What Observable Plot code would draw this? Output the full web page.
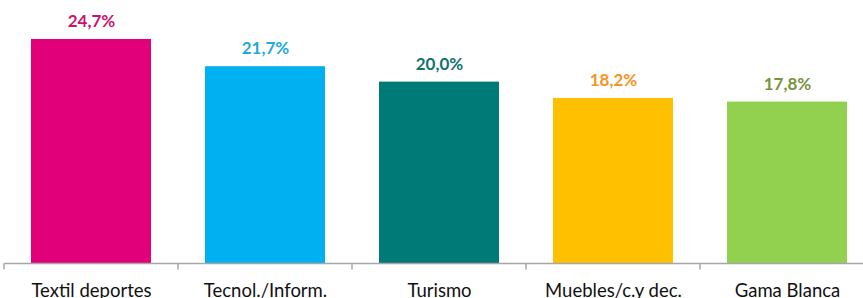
<!DOCTYPE html>
<html>
<head>
<meta charset="utf-8">
<script src="https://cdn.jsdelivr.net/npm/d3@7"></script>
<script src="https://cdn.jsdelivr.net/npm/@observablehq/plot@0.6"></script>
<style>
  html, body { margin: 0; padding: 0; background: #fff; overflow: hidden; }
  svg { display: block; }
</style>
</head>
<body>
<div id="chart"></div>
<script>
const categories = ["Textil deportes", "Tecnol./Inform.", "Turismo", "Muebles/c.y dec.", "Gama Blanca"];
const values = [24.7, 21.7, 20.0, 18.2, 17.8];
const valueLabels = ["24,7%", "21,7%", "20,0%", "18,2%", "17,8%"];
const barColors = ["#E2007A", "#00B0F0", "#007A77", "#FFC000", "#92D050"];
const labelColors = ["#C8146C", "#1EA9E1", "#127370", "#F7941D", "#77933C"];

const data = categories.map((c, i) => ({
  cat: c, value: values[i], label: valueLabels[i], bar: barColors[i], lab: labelColors[i]
}));

// category boundary tick marks (Excel-style), drawn from the x band scale
function boundaryTicks(index, scales, values, dimensions) {
  const x = scales.x, y = scales.y;
  const step = x.step();
  const g = d3.create("svg:g");
  const y0 = y(0) + 0.5;
  const bounds = categories.map(c => x(c) + x.bandwidth() / 2 - step / 2);
  bounds.push(x(categories[categories.length - 1]) + x.bandwidth() / 2 + step / 2);
  g.append("line")
    .attr("x1", bounds[0]).attr("x2", bounds[bounds.length - 1])
    .attr("y1", y0).attr("y2", y0)
    .attr("stroke", "#A6A6A6").attr("stroke-width", 1.5);
  for (const b of bounds) {
    g.append("line")
      .attr("x1", b).attr("x2", b)
      .attr("y1", y0).attr("y2", y0 + 6)
      .attr("stroke", "#A6A6A6").attr("stroke-width", 1.5);
  }
  return g.node();
}

const chart = Plot.plot({
  width: 863,
  height: 298,
  marginLeft: 2,
  marginRight: 0,
  marginTop: 0,
  marginBottom: 35,
  style: { fontFamily: "Lato, sans-serif", background: "#fff", overflow: "hidden" },
  x: { domain: categories, range: [2, 875], paddingInner: 0.313, paddingOuter: 0.1565, align: 0.5, axis: null },
  y: { domain: [0, 29], range: [263, 0], axis: null },
  color: { type: "identity" },
  marks: [
    Plot.barY(data, { x: "cat", y: "value", fill: "bar" }),
    boundaryTicks,
    Plot.text(data, {
      x: "cat", y: "value", text: "label", fill: "lab",
      dy: -18, fontSize: 17, fontWeight: "bold"
    }),
    Plot.text(data, {
      x: "cat", y: () => 0, text: "cat", fill: "#111",
      dy: 28, fontSize: 18.5
    })
  ]
});
document.getElementById("chart").appendChild(chart);
</script>
</body>
</html>
